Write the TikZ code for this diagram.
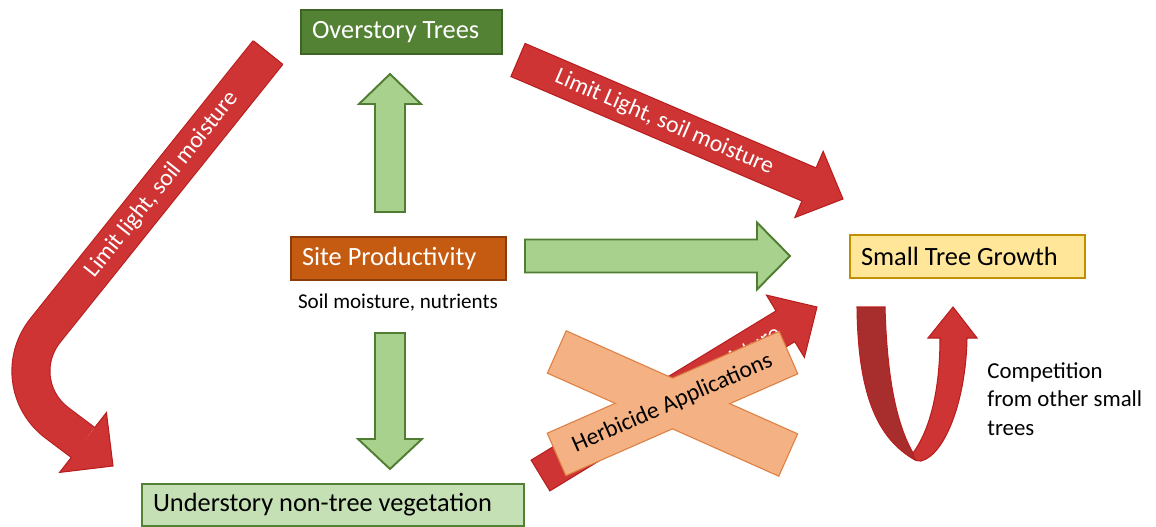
\documentclass[tikz,border=0pt]{standalone}
\usepackage{fontspec}
\setmainfont{Carlito}
\usetikzlibrary{calc}

\definecolor{overgreen}{RGB}{84,130,53}
\definecolor{overline}{RGB}{62,100,38}
\definecolor{siteorange}{RGB}{197,90,17}
\definecolor{siteline}{RGB}{140,60,10}
\definecolor{smallyellow}{RGB}{255,230,153}
\definecolor{smallline}{RGB}{191,144,0}
\definecolor{understgreen}{RGB}{197,224,180}
\definecolor{arrowgreen}{RGB}{169,209,142}
\definecolor{arrowgreenline}{RGB}{80,125,50}
\definecolor{limitred}{RGB}{206,52,52}
\definecolor{limitline}{RGB}{185,30,30}
\definecolor{limitdark}{RGB}{168,46,46}
\definecolor{herbfill}{RGB}{244,177,131}
\definecolor{herbline}{RGB}{222,128,66}

% natural word spaces in left aligned nodes
\newcommand{\plainspace}{\spaceskip=0pt\relax}

\tikzset{
  box/.style={draw, line width=1.1pt, inner xsep=0.22cm, inner ysep=0pt, minimum height=0.86cm, align=left,
    execute at begin node=\plainspace, font=\fontsize{15}{18}\selectfont},
  greenarrow/.style={fill=arrowgreen, draw=arrowgreenline, line width=1.1pt},
  redarrow/.style={fill=limitred, draw=limitline, line width=0.6pt},
  limitlabel/.style={text=white, font=\fontsize{13.5}{16}\selectfont, inner sep=0pt},
  herbbar/.style={minimum width=5.04cm, minimum height=0.9cm, inner sep=0pt}
}

% block arrow: style, tail, tip, half shaft, half head, head length
\newcommand{\blockarrow}[6]{%
  \coordinate (ba-h) at ($(#3)!#6!(#2)$);
  \draw[#1] ($(#2)!#4!90:(#3)$) -- ($(ba-h)!#4!90:(#3)$) -- ($(ba-h)!#5!90:(#3)$) -- (#3)
    -- ($(ba-h)!#5!-90:(#3)$) -- ($(ba-h)!#4!-90:(#3)$) -- ($(#2)!#4!-90:(#3)$) -- cycle;
}

\begin{document}
\begin{tikzpicture}[x=0.02cm, y=-0.02cm]

	\useasboundingbox (0,0) rectangle (1156,527);

	\node[box, fill=overgreen, draw=overline, text=white, text width=3.58cm, minimum height=0.88cm] (over) at (401.5,32) {Overstory Trees};
	\node[box, fill=siteorange, draw=siteline, text=white, text width=3.86cm] (site) at (398.5,258.5) {Site Productivity};
	\node[font=\fontsize{12}{14}\selectfont, inner sep=0pt] (sitenote) at (398,303) {Soil moisture, nutrients};
	\node[box, fill=smallyellow, draw=smallline, text width=4.26cm] (small) at (967.5,256.5) {Small Tree Growth};
	\node[box, fill=understgreen, draw=overgreen, text width=7.2cm, minimum height=0.84cm] (under) at (333,505) {Understory non-tree vegetation};

	% green arrows
	\coordinate (upA) at (390,212);
	\coordinate (upB) at (390,74);
	\blockarrow{greenarrow}{upA}{upB}{0.3cm}{0.62cm}{0.6cm}
	\coordinate (downA) at (390,333);
	\coordinate (downB) at (390,469);
	\blockarrow{greenarrow}{downA}{downB}{0.3cm}{0.64cm}{0.6cm}
	\coordinate (rightA) at (525,256);
	\coordinate (rightB) at (790,256);
	\blockarrow{greenarrow}{rightA}{rightB}{0.33cm}{0.67cm}{0.66cm}

	% red arrows
	\coordinate (limA) at (518,60);
	\coordinate (limB) at (843,199);
	\blockarrow{redarrow}{limA}{limB}{0.36cm}{0.72cm}{0.74cm}
	\path (limA) -- node[limitlabel, sloped, pos=0.45] (limtext) {Limit Light, soil moisture} (limB);

	\coordinate (lowA) at (540.5,475.5);
	\coordinate (lowB) at (817,307);
	\blockarrow{redarrow}{lowA}{lowB}{0.36cm}{0.73cm}{0.74cm}
	\path (lowA) -- node[limitlabel, sloped, pos=0.86, anchor=east] (lowtext) {moisture} (lowB);

	\coordinate (bendA) at (268,52.5);
	\coordinate (bendC) at (3.5,382.6);
	\coordinate (bendH) at (83,442.5);
	\coordinate (bendT) at (113,466);
	\draw[limitline, line width=0.6pt, double=limitred, double distance=0.74cm, rounded corners=1.34cm] (bendA) -- (bendC) -- (bendH);
	\draw[limitline, line width=0.6pt] ($(bendA)!0.37cm!90:(bendC)$) -- ($(bendA)!0.37cm!-90:(bendC)$);
	\fill[limitred] ($(bendH)!0.76cm!90:(bendT)$) -- (bendT) -- ($(bendH)!0.76cm!-90:(bendT)$) -- cycle;
	\draw[limitline, line width=0.6pt] ($(bendH)!0.37cm!90:(bendT)$) -- ($(bendH)!0.76cm!90:(bendT)$) -- (bendT)
		-- ($(bendH)!0.76cm!-90:(bendT)$) -- ($(bendH)!0.37cm!-90:(bendT)$);
	\path (bendA) -- node[limitlabel, sloped, pos=0.4] (bendtext) {Limit light, soil moisture} (bendC);

	% herbicide cross
	\node[herbbar, draw=herbline, line width=1.4pt, rotate=-24] (herbA) at (672.5,403.5) {};
	\node[herbbar, draw=herbline, line width=1.4pt, rotate=23.7] (herbB) at (672.5,403.5) {};
	\node[herbbar, fill=herbfill, rotate=-24] (herbAfill) at (herbA) {};
	\node[herbbar, fill=herbfill, rotate=23.7, font=\fontsize{13.5}{16}\selectfont] (herbBfill) at (herbB) {Herbicide Applications};

	% competition loop
	\draw[limitline, line width=0.6pt, fill=limitdark] (857,307) -- (885,307) .. controls (887,380) and (897,425) .. (913,453)
		-- (915,460) .. controls (880,440) and (858,400) .. (857,307) -- cycle;
	\draw[redarrow] (913,453) .. controls (930,430) and (940,390) .. (940,338) -- (928,338) -- (953,307) -- (977,338) -- (967,338)
		.. controls (966,400) and (945,455) .. (921,461) .. controls (916,462) and (913,458) .. (913,453) -- cycle;
	\node[font=\fontsize{13}{16.4}\selectfont, align=left, anchor=west, inner sep=0pt,
		execute at begin node=\plainspace] (compete) at (987,399) {Competition\\from other small\\trees};

\end{tikzpicture}
\end{document}
